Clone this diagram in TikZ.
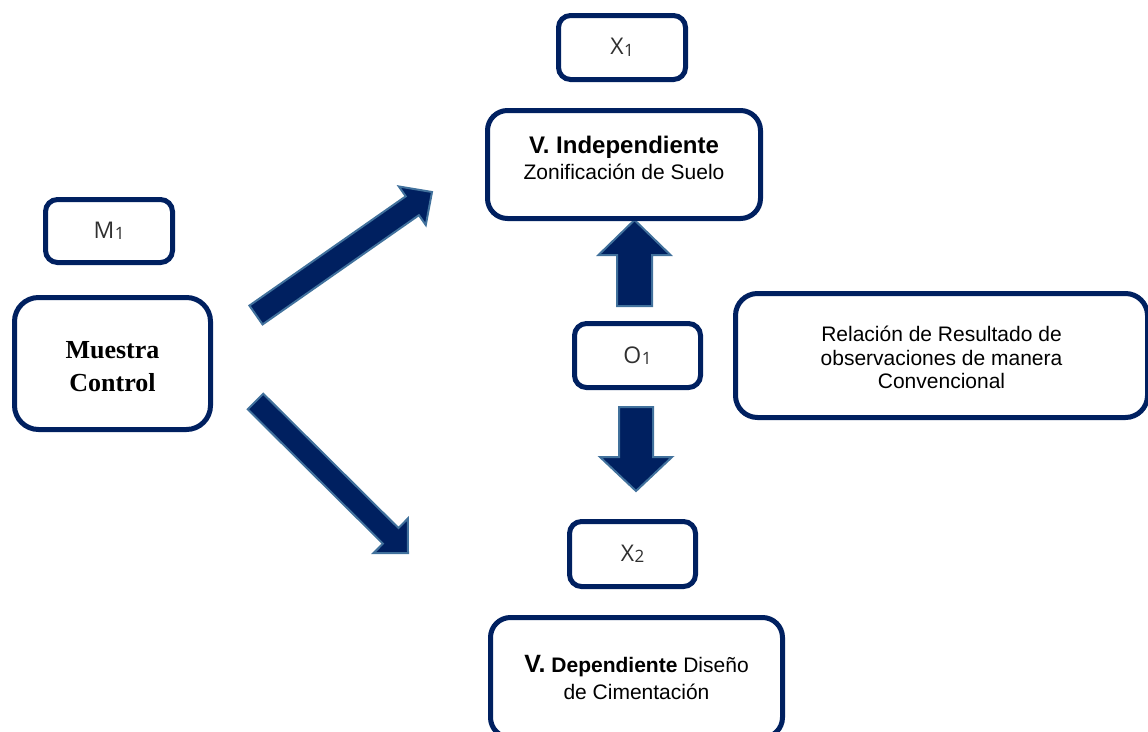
\documentclass[tikz,border=0pt]{standalone}
\usepackage{fontspec}
\setmainfont{Liberation Sans}
\newfontfamily\timesfont{Liberation Serif}
\newfontfamily\labelfont{Open Sans}
\usetikzlibrary{calc}

\definecolor{navy}{HTML}{002060}
\definecolor{steel}{HTML}{41719C}
\definecolor{labelgray}{HTML}{303030}

% Block arrow from tail centre #1 to tip #2:
% #3 = half shaft width, #4 = half head width, #5 = head length
\newcommand\blockarrow[5]{%
  \coordinate (ba-neck) at ($(#2)!#5!(#1)$);
  \filldraw[barrow]
    ($(#1)!#3!90:(#2)$) -- ($(ba-neck)!#3!90:(#2)$) -- ($(ba-neck)!#4!90:(#2)$)
    -- (#2)
    -- ($(ba-neck)!#4!-90:(#2)$) -- ($(ba-neck)!#3!-90:(#2)$) -- ($(#1)!#3!-90:(#2)$)
    -- cycle;}

% Variable label with a subscript index
\newcommand\varlabel[2]{{\labelfont\color{labelgray}\fontsize{23}{23}\selectfont
  #1\kern0.5pt\raisebox{-1.5pt}{\fontsize{17}{17}\selectfont #2}}}

\begin{document}
\begin{tikzpicture}[x=1pt,y=-1pt,
  box/.style={draw=navy, line width=5pt, fill=white, rounded corners=#1, inner sep=0pt},
  box/.default=12pt,
  barrow/.style={fill=navy, draw=steel, line width=2pt, line join=miter},
  boxtext/.style={anchor=north, align=center, inner sep=0pt, text=black}]

\useasboundingbox (0,0) rectangle (1148,731);

% block arrows
\coordinate (up-s) at (256,315);
\coordinate (up-e) at (432,192);
\blockarrow{up-s}{up-e}{11.5pt}{23.5pt}{24pt}
\coordinate (dn-s) at (255.5,401.5);
\coordinate (dn-e) at (408,553);
\blockarrow{dn-s}{dn-e}{11pt}{24.4pt}{24.4pt}
\coordinate (ou-s) at (634.5,306);
\coordinate (ou-e) at (634.5,220);
\blockarrow{ou-s}{ou-e}{17.5pt}{36pt}{35pt}
\coordinate (od-s) at (636,407);
\coordinate (od-e) at (636,491);
\blockarrow{od-s}{od-e}{17pt}{36pt}{34pt}

% boxes
\node[box, minimum width=127pt, minimum height=64pt] (x1) at (622,47.5) {\varlabel{X}{1}};
\node[box=20pt, minimum width=273pt, minimum height=108pt] (ind) at (624,164.5) {};
\node[box, minimum width=127pt, minimum height=63pt] (m1) at (109,231) {\varlabel{M}{1}};
\node[box=24pt, minimum width=196pt, minimum height=132pt] (muestra) at (112.5,363.5) {};
\node[box, minimum width=126pt, minimum height=64pt] (o1) at (637.5,355.5) {\varlabel{O}{1}};
\node[box=22pt, minimum width=412pt, minimum height=124pt] (rel) at (941.5,355.5) {};
\node[box, minimum width=126pt, minimum height=65pt] (x2) at (632.5,554) {\varlabel{X}{2}};
\node[box=20pt, minimum width=292pt, minimum height=120pt] (dep) at (636.5,677.5) {};

% box texts
\node[boxtext, font=\fontsize{21}{26}\selectfont] (ind-text) at (624,135.5)
  {{\bfseries\fontsize{24}{26}\selectfont V. Independiente}\\Zonificación de Suelo};
\node[boxtext, font=\timesfont\bfseries\fontsize{26}{32.7}\selectfont] (muestra-text) at (112.5,341.5)
  {Muestra\\Control};
\node[boxtext, font=\fontsize{21}{23.4}\selectfont] (rel-text) at (941.5,326)
  {Relación de Resultado de\\observaciones de manera\\Convencional};
\node[boxtext, font=\fontsize{21}{27}\selectfont] (dep-text) at (636.5,655)
  {{\bfseries\fontsize{25}{27}\selectfont V.} {\bfseries Dependiente} Diseño\\de Cimentación};
\end{tikzpicture}
\end{document}
